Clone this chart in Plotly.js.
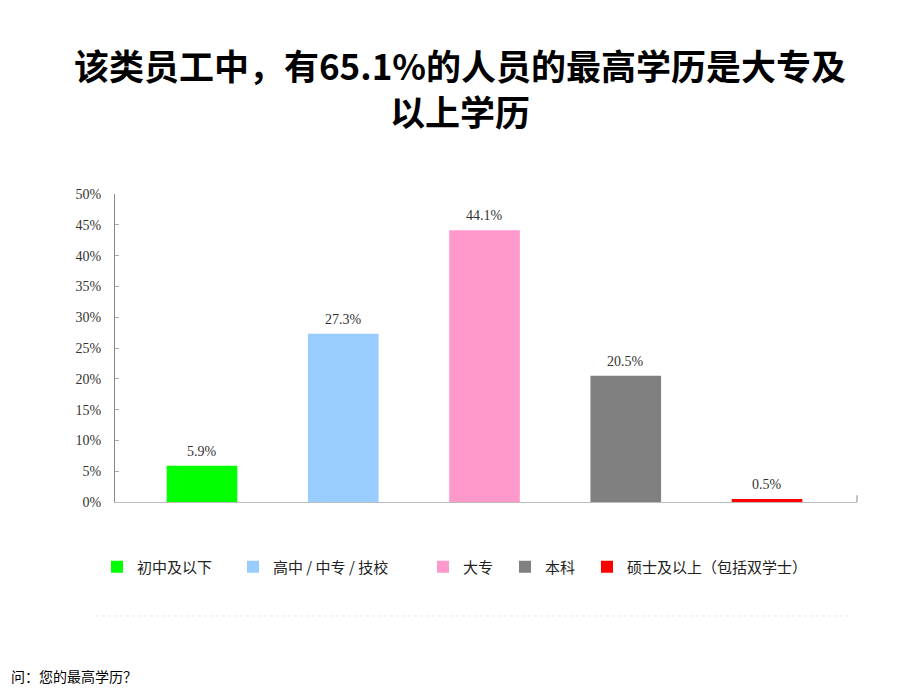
<!DOCTYPE html>
<html><head><meta charset="utf-8">
<script src="https://cdn.plot.ly/plotly-3.0.1.min.js"></script>
<style>body{margin:0;background:#fff}#chart{width:920px;height:690px}</style>
</head><body><div id="chart"></div>
<script>
const categories = ["初中及以下", "高中 / 中专 / 技校", "大专", "本科", "硕士及以上（包括双学士）"];
const values = [0.059, 0.273, 0.441, 0.205, 0.005];
const labels = ["5.9%", "27.3%", "44.1%", "20.5%", "0.5%"];
const colors = ["#00FF00", "#99CCFF", "#FF99CC", "#808080", "#FF0000"];
const yTicks = [0, 0.05, 0.1, 0.15, 0.2, 0.25, 0.3, 0.35, 0.4, 0.45, 0.5];
const yTickText = ["0%", "5%", "10%", "15%", "20%", "25%", "30%", "35%", "40%", "45%", "50%"];
// legend square left edges (px) in reference
const legendPx = [117, 253, 443, 525, 607];

const plotL = 115, plotW = 742;
const legendNames = ['legend', 'legend2', 'legend3', 'legend4', 'legend5'];

const traces = categories.map((c, i) => ({
  type: 'bar', x: [i], y: [values[i]], name: c, width: 0.5,
  marker: {color: colors[i]}, hoverinfo: 'none', legend: legendNames[i]
}));

const legendBase = {orientation: 'h', xanchor: 'left', y: -0.211, yanchor: 'middle',
  font: {family: 'Noto Sans CJK SC', size: 15, color: '#222'}, itemwidth: 30, bgcolor: 'rgba(0,0,0,0)'};

const layout = {
  width: 920, height: 690,
  margin: {l: plotL, r: 63, t: 194, b: 188},
  paper_bgcolor: '#fff', plot_bgcolor: '#fff',
  barmode: 'overlay',
  title: {text: '该类员工中，有65.1%的人员的最高学历是大专及<br>以上学历', x: 0.5, xanchor: 'center',
    yref: 'container', y: 0.884, yanchor: 'middle',
    font: {family: 'Noto Sans CJK SC', size: 35, color: '#000', weight: 'bold'}},
  xaxis: {range: [-0.616, 4.637], showticklabels: false, showgrid: false, zeroline: false,
    showline: true, linecolor: '#bbb', linewidth: 1, ticks: ''},
  yaxis: {range: [0, 0.5], tickvals: yTicks, ticktext: yTickText, showgrid: false, zeroline: false,
    showline: true, linecolor: '#888', linewidth: 1, ticks: 'inside', ticklen: 4, tickcolor: '#aaa',
    ticklabelstandoff: 10,
    tickfont: {family: 'Liberation Serif, serif', size: 14, color: '#333'}},
  showlegend: true,
  shapes: [
    {type: 'line', xref: 'paper', yref: 'paper', x0: -0.026, x1: 0.99, y0: -0.37, y1: -0.37,
      line: {color: '#d8f0d8', width: 1, dash: 'dot'}},
    {type: 'line', xref: 'paper', yref: 'paper', x0: 1, x1: 1, y0: 0, y1: 0.022,
      line: {color: '#888', width: 1}}
  ],
  annotations: categories.map((c, i) => ({
    x: i, y: values[i], xref: 'x', yref: 'y', text: labels[i], showarrow: false,
    yanchor: 'bottom', yshift: 5,
    font: {family: 'Liberation Serif, serif', size: 14, color: '#333'}
  })).concat([{text: '问：您的最高学历？', xref: 'paper', yref: 'paper', x: -0.143, xanchor: 'left',
    y: -0.565, yanchor: 'middle', showarrow: false,
    font: {family: 'Noto Sans CJK SC', size: 14, color: '#000'}}])
};
legendNames.forEach((ln, i) => {
  layout[ln] = Object.assign({}, legendBase, {x: (legendPx[i] - 20 - plotL) / plotW});
});
Plotly.newPlot('chart', traces, layout, {displayModeBar: false, staticPlot: true});
</script></body></html>
